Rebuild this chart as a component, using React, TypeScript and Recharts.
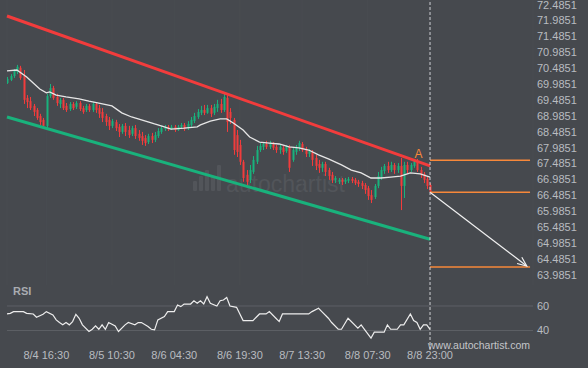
import React from 'react'
import {
  Bar,
  CartesianGrid,
  ComposedChart,
  Line,
  ReferenceDot,
  ReferenceLine,
  XAxis,
  YAxis,
} from 'recharts'

// hourly candles
const opens = [
  70.02, 70.12, 70.24, 70.37, 70.5, 70.24, 69.55, 69.45, 69.3, 69.17,
  68.98, 68.86, 68.67, 69.61, 69.86, 69.58, 69.36, 69.49, 69.3, 69.2,
  69.36, 69.27, 69.39, 69.23, 69.17, 69.3, 69.17, 69.36, 69.23, 69.11,
  68.98, 68.86, 68.67, 68.79, 68.64, 68.48, 68.67, 68.54, 68.42, 68.6,
  68.42, 68.35, 68.29, 68.16, 68.35, 68.23, 68.35, 68.48, 68.57, 68.64,
  68.57, 68.64, 68.54, 68.64, 68.7, 68.6, 68.7, 68.82, 68.95, 69.08,
  69.17, 69.08, 69.23, 69.08, 69.23, 69.36, 69.17, 69.55, 69.11, 68.86,
  68.38, 68.07, 67.54, 67.13, 66.97, 67.22, 67.54, 67.91, 68.01, 68.1,
  68.01, 68.1, 68.01, 67.91, 67.98, 67.88, 68.01, 67.6, 67.85, 67.98,
  68.1, 67.94, 67.79, 67.85, 67.66, 67.47, 67.35, 67.47, 67.28, 67.13,
  66.97, 66.91, 66.97, 66.91, 66.94, 67.0, 66.97, 66.91, 66.87, 66.81,
  66.71, 66.49, 66.43, 66.78, 67.06, 67.25, 67.41, 67.28, 67.44, 67.28,
  67.41, 66.78, 67.44, 67.28, 67.41, 67.54, 67.28, 67.16, 67.0, 66.81,
]
const highs = [
  70.21, 70.3, 70.46, 70.59, 70.56, 70.43, 69.64, 69.58, 69.36, 69.23,
  69.05, 68.92, 69.68, 69.99, 69.93, 69.68, 69.55, 69.55, 69.39, 69.42,
  69.42, 69.45, 69.45, 69.3, 69.36, 69.36, 69.42, 69.42, 69.33, 69.23,
  69.05, 68.95, 68.89, 68.86, 68.73, 68.73, 68.76, 68.67, 68.67, 68.7,
  68.54, 68.48, 68.38, 68.42, 68.45, 68.48, 68.6, 68.67, 68.7, 68.7,
  68.7, 68.7, 68.7, 68.76, 68.76, 68.82, 68.95, 69.08, 69.2, 69.3,
  69.33, 69.33, 69.33, 69.36, 69.49, 69.52, 69.71, 69.64, 69.23, 68.92,
  68.54, 68.23, 67.6, 67.28, 67.44, 67.72, 68.04, 68.13, 68.16, 68.2,
  68.2, 68.16, 68.07, 68.07, 68.04, 68.07, 68.07, 68.01, 68.07, 68.2,
  68.16, 68.01, 67.94, 67.91, 67.76, 67.6, 67.54, 67.54, 67.35, 67.22,
  67.09, 67.03, 67.03, 67.03, 67.06, 67.06, 67.03, 66.97, 66.94, 66.87,
  66.78, 66.65, 66.84, 67.22, 67.38, 67.47, 67.54, 67.54, 67.5, 67.5,
  67.66, 67.54, 67.54, 67.5, 67.63, 67.63, 67.38, 67.22, 67.06, 66.87,
]
const lows = [
  69.99, 70.08, 70.18, 70.3, 70.12, 69.36, 69.23, 69.17, 68.98, 68.86,
  68.7, 68.6, 68.6, 69.55, 69.49, 69.3, 69.23, 69.17, 69.11, 69.14,
  69.17, 69.2, 69.14, 69.05, 69.11, 69.11, 69.11, 69.08, 68.92, 68.79,
  68.67, 68.54, 68.6, 68.51, 68.32, 68.42, 68.35, 68.29, 68.35, 68.26,
  68.2, 68.07, 68.04, 68.1, 68.13, 68.16, 68.29, 68.42, 68.51, 68.51,
  68.54, 68.48, 68.51, 68.57, 68.51, 68.54, 68.64, 68.76, 68.89, 69.01,
  69.01, 69.05, 68.95, 69.01, 69.11, 69.08, 69.11, 68.48, 68.73, 67.76,
  67.69, 67.44, 66.91, 66.78, 66.87, 67.16, 67.47, 67.85, 67.91, 67.94,
  67.94, 67.91, 67.82, 67.79, 67.76, 67.82, 67.22, 67.54, 67.76, 67.88,
  67.85, 67.69, 67.69, 67.41, 67.28, 67.19, 67.22, 67.09, 66.97, 66.87,
  66.87, 66.84, 66.81, 66.84, 66.87, 66.87, 66.81, 66.75, 66.68, 66.53,
  66.34, 66.24, 66.37, 66.71, 66.97, 67.16, 67.19, 67.22, 67.16, 67.19,
  66.02, 66.4, 67.16, 67.22, 67.35, 67.22, 67.03, 66.87, 66.68, 66.53,
]
const closes = [
  70.15, 70.24, 70.4, 70.53, 70.18, 69.49, 69.42, 69.23, 69.11, 68.92,
  68.79, 68.67, 69.61, 69.86, 69.55, 69.39, 69.49, 69.23, 69.17, 69.36,
  69.23, 69.39, 69.2, 69.11, 69.3, 69.17, 69.36, 69.17, 69.05, 68.92,
  68.79, 68.67, 68.82, 68.6, 68.48, 68.67, 68.48, 68.38, 68.6, 68.35,
  68.29, 68.2, 68.13, 68.35, 68.23, 68.38, 68.51, 68.6, 68.64, 68.57,
  68.64, 68.54, 68.64, 68.7, 68.57, 68.73, 68.86, 68.98, 69.11, 69.17,
  69.08, 69.23, 69.05, 69.27, 69.36, 69.17, 69.58, 68.79, 68.92, 67.91,
  67.85, 67.54, 67.03, 66.91, 67.28, 67.6, 67.91, 68.04, 68.1, 68.01,
  68.1, 67.98, 67.91, 68.01, 67.85, 68.01, 67.35, 67.91, 68.01, 68.13,
  67.91, 67.79, 67.88, 67.6, 67.41, 67.35, 67.47, 67.22, 67.09, 66.97,
  67.03, 66.97, 66.91, 66.97, 67.0, 66.94, 66.87, 66.84, 66.78, 66.65,
  66.46, 66.34, 66.78, 67.09, 67.28, 67.41, 67.28, 67.44, 67.28, 67.41,
  66.78, 67.44, 67.28, 67.44, 67.57, 67.28, 67.13, 66.97, 66.78, 66.59,
]

// moving average, [candle index, price]
const maPoints: [number, number][] = [
  [0, 70.4], [3, 70.43], [6, 70.21], [8, 70.02], [10, 69.83], [12, 69.71],
  [13, 69.74], [15, 69.64], [18, 69.58], [22, 69.52], [25, 69.45], [28, 69.39],
  [32, 69.3], [35, 69.08], [38, 68.95], [41, 68.86], [45, 68.73], [48, 68.64],
  [50, 68.57], [54, 68.6], [58, 68.64], [59, 68.7], [62, 68.82], [65, 68.89],
  [67, 68.89], [69, 68.76], [72, 68.54], [74, 68.32], [77, 68.16], [80, 68.13],
  [83, 68.1], [86, 68.01], [89, 67.98], [92, 67.91], [95, 67.76], [98, 67.63],
  [102, 67.44], [105, 67.28], [108, 67.19], [111, 67.03], [114, 67.03],
  [117, 67.06], [120, 67.09], [123, 67.19], [126, 67.16], [129, 67.06],
]

// RSI, [candle index, value]
const rsiPoints: [number, number][] = [
  [0, 53.5], [1, 54], [2, 55.4], [5, 55.4], [6, 54], [8, 53.5], [9, 50.8],
  [11, 53.2], [12, 55.4], [14, 52.7], [15, 48.7], [16, 46.5], [17, 44.6],
  [18, 46.5], [19, 44.6], [20, 47.3], [21, 53.2], [22, 50], [23, 44.6],
  [25, 39.2], [26, 41], [27, 43.8], [28, 41], [29, 44.6], [30, 41], [31, 46.5],
  [33, 43.8], [34, 39.2], [36, 44.6], [37, 46.5], [39, 44.6], [40, 46.5],
  [41, 46.5], [43, 43.3], [44, 41], [45, 40.5], [46, 48.7], [48, 51.4],
  [49, 55.4], [51, 55.4], [52, 60.8], [53, 59.5], [54, 61.6], [56, 61.6],
  [57, 64.3], [58, 62.2], [59, 64.3], [60, 61.6], [61, 67.6], [62, 62.2],
  [64, 60], [65, 64.3], [66, 64.9], [67, 67], [68, 60], [70, 58.9], [72, 48.1],
  [75, 48.1], [76, 50.8], [77, 53.5], [79, 53.5], [80, 55.4], [82, 50],
  [83, 47.3], [84, 53.5], [92, 53.5], [93, 55.4], [95, 58.1], [96, 55.4],
  [98, 50], [99, 46.5], [101, 41], [102, 41], [104, 50], [107, 41.9],
  [108, 44.6], [109, 41], [111, 33.8], [112, 38.6], [115, 38.6], [116, 44.6],
  [117, 41], [119, 41], [120, 44.6], [121, 44.6], [123, 53.5], [124, 48.1],
  [125, 46.5], [126, 41], [127, 44.6], [128, 44.6], [129, 41],
]

const timeTicks = [12, 32, 51, 71, 90, 110, 129]
const timeLabels = ['8/4 16:30', '8/5 10:30', '8/6 04:30', '8/6 19:30', '8/7 13:30', '8/8 07:30', '8/8 23:00']
const priceTicks = [
  63.9851, 64.4851, 64.9851, 65.4851, 65.9851, 66.4851, 66.9851, 67.4851, 67.9851,
  68.4851, 68.9851, 69.4851, 69.9851, 70.4851, 70.9851, 71.4851, 71.9851, 72.4851,
]
const rsiTicks = [40, 60]

// channel: [start price, end price] from first to last candle
const resistance = [72.13, 67.41]
const support = [68.95, 65.1]
// pattern levels and forecast
const levelA = 67.59
const levelBreak = 66.58
const levelTarget = 64.23
const arrowTip = 64.26
const pointA = [125.5, 67.79]

const lastIdx = 129
const projEnd = 159.5
const arrowEnd = 158.5
const xMax = 160.4

const BG = '#46494e'
const RED = '#f23c3c'
const GREEN = '#19b27c'
const ORANGE = '#f7883a'
const TEXT = '#b9bcc0'
const FONT = '"Liberation Sans", Arial, sans-serif'

const candles = opens.map((o, i) => ({
  i,
  o,
  h: highs[i],
  l: lows[i],
  c: closes[i],
  range: [lows[i], highs[i]],
}))
const maData = maPoints.map(([i, v]) => ({ i, ma: v }))
const rsiData = rsiPoints.map(([i, v]) => ({ i, rsi: v }))

const Candle = (props: any) => {
  const { x, y, width, height, payload } = props
  if (!payload) return null
  const top = Math.min(y, y + height)
  const bot = Math.max(y, y + height)
  const span = payload.h - payload.l || 1
  const toY = (v: number) => top + ((payload.h - v) / span) * (bot - top)
  const color = payload.c >= payload.o ? GREEN : RED
  const cx = Math.round(x + width / 2) + 0.5
  const yo = toY(payload.o)
  const yc = toY(payload.c)
  return (
    <g>
      <line x1={cx} x2={cx} y1={top} y2={bot} stroke={color} strokeWidth={1} />
      <rect
        x={cx - 1}
        y={Math.min(yo, yc)}
        width={2}
        height={Math.max(1, Math.abs(yc - yo))}
        fill={color}
      />
    </g>
  )
}

const Arrow = (props: any) => {
  const { x1, y1, x2, y2 } = props
  const ang = Math.atan2(y2 - y1, x2 - x1)
  const len = 10
  const a1 = ang + Math.PI - 0.4
  const a2 = ang + Math.PI + 0.4
  return (
    <g stroke='#f2f2f2' strokeWidth={1.2} fill='none'>
      <line x1={x1} y1={y1} x2={x2} y2={y2} />
      <polyline
        points={`${x2 + len * Math.cos(a1)},${y2 + len * Math.sin(a1)} ${x2},${y2} ${
          x2 + len * Math.cos(a2)
        },${y2 + len * Math.sin(a2)}`}
      />
    </g>
  )
}

const LabelA = (props: any) => (
  <text x={props.cx} y={props.cy} dy='0.35em' textAnchor='middle' fill={ORANGE} fontSize={12} fontFamily={FONT}>
    A
  </text>
)

const tickStyle = { fill: TEXT, fontSize: 11, fontFamily: FONT }

export default function App() {
  return (
    <div style={{ position: 'absolute', left: 0, top: 0, width: 588, height: 368, background: BG, overflow: 'hidden' }}>
      <svg width={588} height={368} style={{ position: 'absolute', left: 0, top: 0 }}>
        <g fill='#52555a'>
          <rect x={193} y={181} width={4} height={10} rx={1} />
          <rect x={199} y={176} width={4} height={15} rx={1} />
          <rect x={205} y={170} width={4} height={21} rx={1} />
          <rect x={211} y={176} width={4} height={15} rx={1} />
          <rect x={217} y={165} width={4} height={26} rx={1} />
        </g>
        <text x={226} y={192} fill='#52555a' fontSize={23} fontFamily={FONT}>
          autochartist
        </text>
        <text x={13} y={295} fill='#a9acb1' fontSize={11} fontWeight='bold' fontFamily={FONT}>
          RSI
        </text>
        <text x={428} y={349} fill='#c4c6ca' fontSize={10.5} fontFamily={FONT}>
          www.autochartist.com
        </text>
      </svg>

      <div style={{ position: 'absolute', left: 0, top: 0 }}>
        <ComposedChart width={588} height={285} data={candles} margin={{ top: 0, right: 0, bottom: 0, left: 7 }}>
          <CartesianGrid horizontal={false} stroke='#494c51' />
          <XAxis type='number' dataKey='i' domain={[0, xMax]} ticks={timeTicks} allowDataOverflow hide />
          <YAxis
            type='number'
            orientation='right'
            width={55}
            domain={[63.661, 72.633]}
            allowDataOverflow
            ticks={priceTicks}
            interval={0}
            tickFormatter={(v: number) => v.toFixed(4)}
            axisLine={false}
            tickLine={false}
            tickSize={4}
            tickMargin={0}
            tick={tickStyle}
          />
          <ReferenceLine
            segment={[{ x: 0, y: resistance[0] }, { x: lastIdx, y: resistance[1] }]}
            stroke={RED}
            strokeWidth={3}
          />
          <ReferenceLine
            segment={[{ x: 0, y: support[0] }, { x: lastIdx, y: support[1] }]}
            stroke={GREEN}
            strokeWidth={3}
          />
          <Bar dataKey='range' barSize={2} shape={Candle} isAnimationActive={false} />
          <Line
            data={maData}
            dataKey='ma'
            stroke='#e6e6e6'
            strokeWidth={1.3}
            dot={false}
            isAnimationActive={false}
          />
          <ReferenceLine segment={[{ x: lastIdx, y: levelA }, { x: projEnd, y: levelA }]} stroke={ORANGE} strokeWidth={1.5} />
          <ReferenceLine segment={[{ x: lastIdx, y: levelBreak }, { x: projEnd, y: levelBreak }]} stroke={ORANGE} strokeWidth={1.5} />
          <ReferenceLine segment={[{ x: lastIdx, y: levelTarget }, { x: projEnd, y: levelTarget }]} stroke={ORANGE} strokeWidth={1.5} />
          <ReferenceLine segment={[{ x: lastIdx, y: levelBreak }, { x: arrowEnd, y: arrowTip }]} shape={Arrow} />
          <ReferenceLine x={lastIdx} stroke='#cfd1d4' strokeDasharray='3 2' />
          <ReferenceDot x={pointA[0]} y={pointA[1]} r={0} shape={LabelA} />
        </ComposedChart>
      </div>

      <div style={{ position: 'absolute', left: 0, top: 285 }}>
        <ComposedChart width={588} height={83} data={rsiData} margin={{ top: 0, right: 0, bottom: 0, left: 7 }}>
          <XAxis
            type='number'
            dataKey='i'
            domain={[0, xMax]}
            allowDataOverflow
            ticks={timeTicks}
            interval={0}
            tickFormatter={(v: number) => timeLabels[timeTicks.indexOf(v)] ?? ''}
            axisLine={false}
            tickLine={false}
            height={18}
            tickSize={1}
            tickMargin={0}
            tick={tickStyle}
          />
          <YAxis
            type='number'
            orientation='right'
            width={55}
            domain={[24.08, 77.14]}
            allowDataOverflow
            ticks={rsiTicks}
            interval={0}
            axisLine={false}
            tickLine={false}
            tickSize={4}
            tickMargin={0}
            tick={tickStyle}
          />
          <ReferenceLine y={60} stroke='#5d6065' />
          <ReferenceLine y={40} stroke='#5d6065' />
          <ReferenceLine x={lastIdx} stroke='#cfd1d4' strokeDasharray='3 2' />
          <Line dataKey='rsi' stroke='#ededed' strokeWidth={1.2} dot={false} isAnimationActive={false} />
        </ComposedChart>
      </div>
    </div>
  )
}
